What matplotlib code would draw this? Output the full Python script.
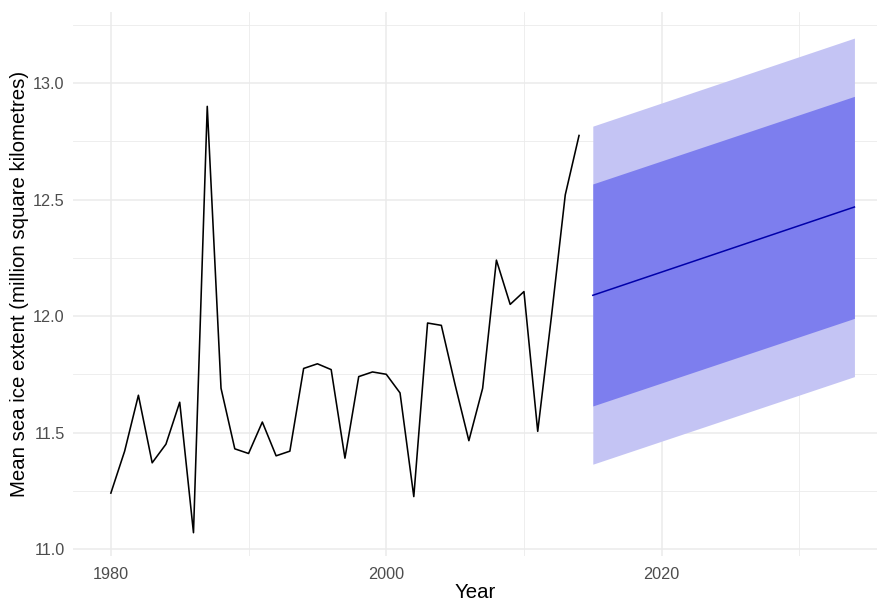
import matplotlib
matplotlib.use("Agg")
import matplotlib.pyplot as plt
from matplotlib.ticker import FixedLocator

# Observed series
years = list(range(1980, 2015))
extent = [11.24, 11.42, 11.66, 11.37, 11.45, 11.63, 11.07, 12.90, 11.69, 11.43,
          11.41, 11.545, 11.40, 11.42, 11.775, 11.795, 11.77, 11.39, 11.74, 11.76,
          11.75, 11.67, 11.225, 11.97, 11.96, 11.705, 11.465, 11.69, 12.24, 12.05,
          12.105, 11.505, 12.0, 12.52, 12.775]

# Forecast (read at the start and end of the horizon)
fc_years = [2015, 2034]
fc_mean = [12.089, 12.468]
lo80 = [11.614, 11.990]
hi80 = [12.567, 12.943]
lo95 = [11.364, 11.740]
hi95 = [12.815, 13.193]

x_ticks = [1980, 2000, 2020]
x_minor = [1990, 2010, 2030]
y_ticks = [11.0, 11.5, 12.0, 12.5, 13.0]
y_minor = [11.25, 11.75, 12.25, 12.75, 13.25]

plt.rcParams['font.family'] = ['Liberation Sans', 'DejaVu Sans']

fig = plt.figure(figsize=(8.8, 6.03), dpi=100)
ax = fig.add_axes([73/880, 1 - 556/603, (877 - 73)/880, (556 - 12)/603])

ax.set_xlim(1977.25, 2035.64)
ax.set_ylim(10.97, 13.305)

for s in ax.spines.values():
    s.set_visible(False)

ax.xaxis.set_major_locator(FixedLocator(x_ticks))
ax.xaxis.set_minor_locator(FixedLocator(x_minor))
ax.yaxis.set_major_locator(FixedLocator(y_ticks))
ax.yaxis.set_minor_locator(FixedLocator(y_minor))
ax.set_xticklabels([str(v) for v in x_ticks])
ax.set_yticklabels([f"{v:.1f}" for v in y_ticks])

ax.grid(which='major', color='#EBEBEB', linewidth=1.1)
ax.grid(which='minor', color='#EBEBEB', linewidth=0.6)
ax.set_axisbelow(True)
ax.tick_params(which='both', length=0)
ax.tick_params(axis='x', which='major', pad=8, labelsize=11.7, labelcolor='#4D4D4D')
ax.tick_params(axis='y', which='major', pad=6, labelsize=11.7, labelcolor='#4D4D4D')

ax.fill_between(fc_years, lo95, hi95, color='#C4C4F4', linewidth=0, zorder=2)
ax.fill_between(fc_years, lo80, hi80, color='#7D7EEE', linewidth=0, zorder=3)
ax.plot(fc_years, fc_mean, color='#0000AA', linewidth=1.1, zorder=4)
ax.plot(years, extent, color='black', linewidth=1.15, zorder=4)

ax.set_xlabel('Year', fontsize=14.7, color='black', labelpad=1)
ax.set_ylabel('Mean sea ice extent (million square kilometres)', fontsize=14.7,
              color='black', labelpad=3)

fig.savefig('out.png', dpi=100)
